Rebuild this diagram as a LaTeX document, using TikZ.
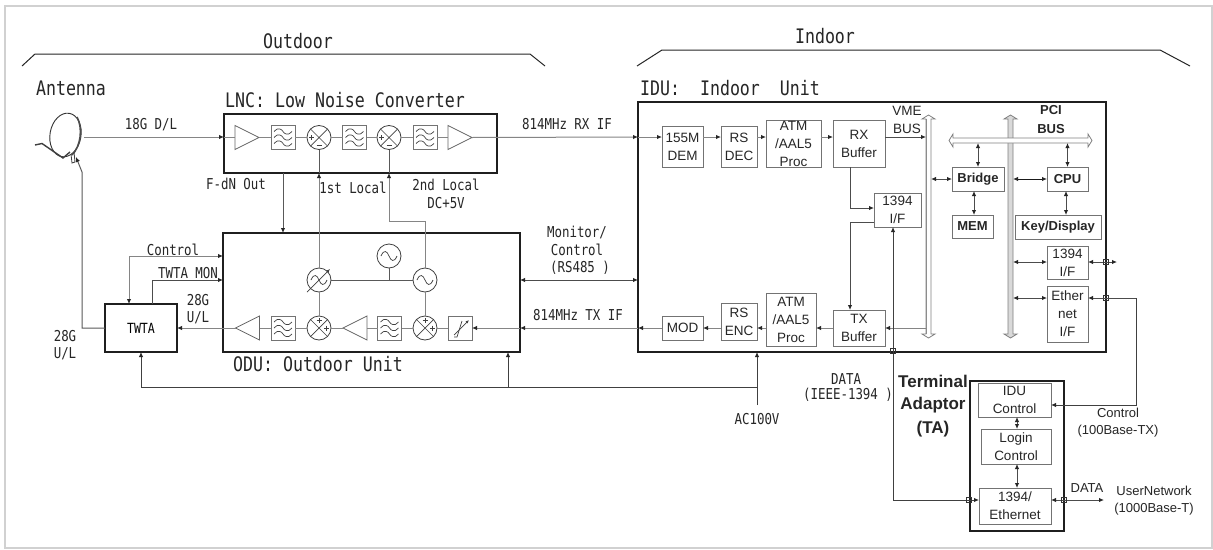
\documentclass[tikz,border=0pt]{standalone}
\usepackage{fontspec}
\setmainfont{Liberation Sans}
\newfontfamily\gth[FakeStretch=0.83]{DejaVu Sans Mono}
\usetikzlibrary{arrows.meta,shapes.geometric,calc}
\newcommand{\gs}[1]{\fontsize{#1}{#1}\selectfont\gth}
\newcommand{\ar}[2]{\fontsize{#1}{#2}\selectfont}
\colorlet{lg}{black!48}
\colorlet{bg}{black!55}
\tikzset{
 sig/.style={draw=lg,line width=1pt},
 dk/.style={draw=black!80,line width=1pt},
 tip/.style={-{Latex[length=5pt,width=4.5pt,black!85]}},
 rtip/.style={{Latex[length=5pt,width=4.5pt,black!85]}-},
 btip/.style={{Latex[length=5pt,width=4.5pt,black!85]}-{Latex[length=5pt,width=4.5pt,black!85]}},
 heavy/.style={draw=black!88,line width=1.8pt,inner sep=0pt,outer sep=0pt},
 thin box/.style={draw=bg,line width=1pt,inner sep=0pt,outer sep=0pt,align=center,font=\fontsize{13.5}{18}\selectfont,text=black!85},
 ghost/.style={inner sep=0pt,outer sep=0pt},
 lab/.style={inner sep=0pt,outer sep=0pt,align=center,text=black!85},
 comp/.style={draw=black!75,line width=.7pt},
 xing/.style={draw=black!80,line width=.7pt,minimum size=5pt,inner sep=0pt,outer sep=0pt},
 busshape/.style={draw=black!50,fill=black!15,line width=.8pt},
 bracket/.style={draw=black!85,line width=1pt}
}
% \bx{style}{name}{x1}{y1}{x2}{y2}{text}
\newcommand{\bx}[7]{%
 \pgfmathsetmacro{\cxx}{(#3+#5)/2}\pgfmathsetmacro{\cyy}{(#4+#6)/2}%
 \pgfmathsetmacro{\www}{#5-#3}\pgfmathsetmacro{\hhh}{#6-#4}%
 \node[#1,minimum width=\www pt,minimum height=\hhh pt] (#2) at (\cxx,\cyy) {#7};}
\newcommand{\filt}[3]{%
 \node[thin box,minimum width=24pt,minimum height=24pt] (#1) at (#2,#3) {};
 \begin{scope}[shift={(#1.center)}]
 \foreach \d in {-6,0,6}{\draw[comp] (-9,\d) .. controls (-5,\d-5) and (-1,\d-2) .. (0,\d) .. controls (1,\d+2) and (5,\d+5) .. (9,\d);}
 \end{scope}}
% \mixer{name}{x}{y}{type}
\newcommand{\mixer}[4]{%
 \node[draw=black!75,line width=.8pt,circle,minimum size=24pt,inner sep=0pt,outer sep=0pt] (#1) at (#2,#3) {};
 \draw[comp] (#1.45)--(#1.225) (#1.135)--(#1.315);
 \begin{scope}[shift={(#1.center)}]
 \if#4u
  \draw[comp,line width=.6pt] (-10,0)--(-5,0) (-7.5,-2.5)--(-7.5,2.5) (-2.5,8)--(2.5,8);
 \else
  \draw[comp,line width=.6pt] (-2.5,-7.5)--(2.5,-7.5) (0,-10)--(0,-5) (5,0)--(10,0) (7.5,-2.5)--(7.5,2.5);
 \fi
 \end{scope}}
\newcommand{\osc}[3]{%
 \node[draw=black!75,line width=.8pt,circle,minimum size=24pt,inner sep=0pt,outer sep=0pt] (#1) at (#2,#3) {};
 \begin{scope}[shift={(#1.center)}]
 \draw[comp] (-8,0) .. controls (-5,-7) and (-2,-5) .. (0,0) .. controls (2,5) and (5,7) .. (8,0);
 \end{scope}}
\newcommand{\ampR}[3]{%
 \node[ghost,minimum width=24pt,minimum height=24pt] (#1) at (#2,#3) {};
 \draw[comp,draw=black!60,line width=.8pt] (#1.south west)--(#1.north west)--(#1.east)--cycle;}
\newcommand{\ampL}[3]{%
 \node[ghost,minimum width=24pt,minimum height=24pt] (#1) at (#2,#3) {};
 \draw[comp,draw=black!60,line width=.8pt] (#1.south east)--(#1.north east)--(#1.west)--cycle;}
\begin{document}
\begin{tikzpicture}[x=1pt,y=-1pt]
\useasboundingbox (0,0) rectangle (1213,549);
\fill[white] (0,0) rectangle (1213,549);
\draw[black!18,line width=1.6pt] (5,6) rectangle (1212,548);
% brackets
\coordinate (oa) at (22,66); \coordinate (ob) at (35,54); \coordinate (oc) at (530,54); \coordinate (od) at (545,66);
\draw[bracket] (oa)--(ob)--(oc)--(od);
\coordinate (ia) at (637,66); \coordinate (ib) at (662,50); \coordinate (ic) at (1160,50); \coordinate (id) at (1190,66);
\draw[bracket] (ia)--(ib)--(ic)--(id);
% rows
\coordinate (rx) at (0,137); \coordinate (mon) at (0,280); \coordinate (tx) at (0,328);
\coordinate (acrow) at (0,387);
% main boxes
\bx{heavy}{lnc}{224}{114}{497}{173}{}
\bx{heavy}{odu}{223}{233}{520}{352}{}
\bx{heavy}{twta}{105}{304}{177}{352}{\gs{14}TWTA}
\bx{heavy}{idu}{638}{102}{1106}{352}{}
\bx{heavy}{ta}{970}{381}{1064}{531}{}
% antenna
\node[ghost,draw=black!80,line width=.9pt,ellipse,minimum width=31pt,minimum height=44pt,rotate=-10] (ant) at (65.5,135) {};
\draw[black!70,line width=1.6pt] (77,117) .. controls (83,128) and (81,146) .. (72,155);
\draw[black!75,line width=1.4pt] (35,145)--(42,143.5)--(63,158)--(70,152);
\draw[black!75,line width=.8pt] (71,154)--(72,163)--(75,162)--(74,152);
\coordinate (antout) at (84,137);
\coordinate (antin) at (76,157);
% LNC chain
\ampR{a1}{247}{137.5}
\filt{f1}{283}{137.5}
\mixer{m1}{319}{137.5}{u}
\filt{f2}{354.5}{137.5}
\mixer{m2}{389}{137.5}{u}
\filt{f3}{425}{137.5}
\ampR{a2}{460}{137.5}
\draw[sig,tip] (antout)--(lnc.west |- rx);
\draw[sig] (lnc.west |- rx)--(a1.west |- rx);
\draw[sig] (a1.east)--(f1.west); \draw[sig] (f1.east)--(m1.west); \draw[sig] (m1.east)--(f2.west);
\draw[sig] (f2.east)--(m2.west); \draw[sig] (m2.east)--(f3.west); \draw[sig] (f3.east)--(a2.west);
% ODU chain
\ampL{a3}{247.5}{328}
\filt{f4}{283}{328}
\mixer{m3}{319}{328}{d}
\ampL{a4}{355}{328}
\filt{f5}{389.5}{328}
\mixer{m4}{425}{328}{d}
\node[thin box,minimum width=24pt,minimum height=24pt] (att) at (460,328) {};
\draw[comp] (454,337)--(457,337)--(462,321);
\draw[comp,-{Latex[length=3.5pt,width=3pt]}] (454,335)--(469,320);
\node[draw=black!75,line width=.8pt,circle,minimum size=24pt,inner sep=0pt,outer sep=0pt] (ps) at (319,280) {};
\begin{scope}[shift={(ps.center)}]
\draw[comp] (-8,0) .. controls (-5,-7) and (-2,-5) .. (0,0) .. controls (2,5) and (5,7) .. (8,0);
\end{scope}
\coordinate (psa) at (307,292); \coordinate (psb) at (330,269);
\draw[comp,-{Latex[length=4pt,width=3.5pt]}] (psa)--(psb);
\osc{o1}{389}{256}
\osc{o2}{425}{280}
\coordinate (bend) at (425,221);
\draw[sig] (a3.east)--(f4.west); \draw[sig] (f4.east)--(m3.west); \draw[sig] (m3.east)--(a4.west);
\draw[sig] (a4.east)--(f5.west); \draw[sig] (f5.east)--(m4.west); \draw[sig] (m4.east)--(att.west);
\draw[dk,draw=black!65] (ps.east)--(o2.west);
\draw[dk,draw=black!65] (o1.south)--(o1.south |- o2.west);
\draw[sig] (ps.south)--(m3.north);
\draw[sig] (o2.south)--(m4.north);
\draw[sig,tip] (m1.south |- ps.north)--(m1.south |- lnc.south);
\draw[dk,draw=black!65] (m1.south)--(m1.south |- lnc.south);
\draw[sig,tip] (o2.north)--(bend)--(m2.south |- bend)--(m2.south |- lnc.south);
\draw[dk,draw=black!65] (m2.south)--(m2.south |- lnc.south);
\coordinate (fdn) at (283,173);
\draw[dk,draw=black!65,tip] (fdn)--(fdn |- odu.north);
% TWTA
\draw[sig,tip] (a3.west)--(twta.east |- tx);
\coordinate (tc) at (129,304); \coordinate (tm) at (152,304); \coordinate (tcr) at (223,256);
\draw[sig,btip] (tc)--(tc |- tcr)--(tcr);
\draw[dk,draw=black!70,tip] (tm)--(tm |- mon)--(odu.west |- mon);
\coordinate (upx) at (82,172);
\draw[dk,draw=black!65,tip] (twta.west |- tx)--(upx |- tx)--(upx)--(antin);
% power
\coordinate (pw) at (141,352); \coordinate (po) at (508,352); \coordinate (pi) at (757,352); \coordinate (pe) at (757,405);
\draw[dk,draw=black!75,tip] (pi |- acrow)--(pw |- acrow)--(pw);
\draw[dk,draw=black!75,tip] (po |- acrow)--(po);
\draw[dk,draw=black!75,tip] (pe)--(pi);
% between units
\draw[sig,tip] (a2.east)--(idu.west |- rx);
\draw[dk,draw=black!70,btip] (odu.east |- mon)--(idu.west |- mon);
\draw[sig,tip] (idu.west |- tx)--(odu.east |- tx);
\draw[sig,tip] (odu.east |- tx)--(att.east);
% IDU blocks
\bx{thin box}{dem}{662}{126}{703}{167}{155M\\DEM}
\bx{thin box}{rsd}{721}{126}{757}{167}{RS\\DEC}
\bx{thin box}{atmr}{766}{120}{821}{167}{ATM\\/AAL5\\Proc}
\bx{thin box}{rxb}{833}{120}{885}{167}{RX\\Buffer}
\bx{thin box}{ifa}{874}{193}{921}{227}{1394\\I/F}
\bx{thin box}{txb}{833}{310}{885}{346}{TX\\Buffer}
\bx{thin box}{atmt}{766}{293}{816}{346}{ATM\\/AAL5\\Proc}
\bx{thin box}{rse}{721}{303}{757}{340}{RS\\ENC}
\bx{thin box}{mod}{662}{316}{703}{340}{MOD}
\bx{thin box}{bri}{952}{167}{1004}{191}{\ar{13}{18}\bfseries Bridge}
\bx{thin box}{cpu}{1047}{167}{1088}{191}{\ar{13}{18}\bfseries CPU}
\bx{thin box}{mem}{952}{215}{993}{238}{\ar{13}{18}\bfseries MEM}
\bx{thin box}{key}{1015}{215}{1101}{239}{\ar{13}{18}\bfseries Key/Display}
\bx{thin box}{ifb}{1047}{246}{1088}{279}{1394\\I/F}
\bx{thin box}{eth}{1047}{286}{1088}{342}{Ether\\net\\I/F}
% buses
\bx{ghost}{vme}{926}{115}{931}{338}{}
\bx{ghost}{pciv}{1008}{115}{1013}{338}{}
\bx{ghost}{pcih}{949}{138}{1092}{143}{}
\draw[busshape,fill=white] (926,119)--(922,119)--(928.5,115)--(935,119)--(931,119)--(931,334)--(935,334)--(928.5,338)--(922,334)--(926,334)--cycle;
\draw[black!45,line width=1.6pt] (926.5,119)--(926.5,334);
\draw[busshape] (1008,119)--(1004,119)--(1010.5,115)--(1017,119)--(1013,119)--(1013,334)--(1017,334)--(1010.5,338)--(1004,334)--(1008,334)--cycle;
\draw[busshape,fill=white] (953,138)--(953,134)--(949,140.5)--(953,147)--(953,143)--(1088,143)--(1088,147)--(1092,140.5)--(1088,134)--(1088,138)--cycle;
% IDU connectors
\draw[sig,tip] (idu.west |- rx)--(dem.west |- rx);
\draw[sig,tip] (dem.east |- rx)--(rsd.west |- rx);
\draw[sig,tip] (rsd.east |- rx)--(atmr.west |- rx);
\draw[sig,tip] (atmr.east |- rx)--(rxb.west |- rx);
\draw[dk,draw=black!70,tip] (rxb.east |- rx)--(vme.west |- rx);
\coordinate (c850) at (850,0); \coordinate (r208) at (0,208); \coordinate (r222) at (0,222);
\draw[dk,draw=black!70,tip] (c850 |- rxb.south)--(c850 |- r208)--(ifa.west |- r208);
\draw[dk,draw=black!70,tip] (ifa.west |- r222)--(c850 |- r222)--(c850 |- txb.north);
\draw[sig,tip] (vme.west |- tx)--(txb.east |- tx);
\draw[sig,tip] (txb.west |- tx)--(atmt.east |- tx);
\draw[sig,tip] (atmt.west |- tx)--(rse.east |- tx);
\draw[sig,tip] (rse.west |- tx)--(mod.east |- tx);
\draw[sig,tip] (mod.west |- tx)--(idu.west |- tx);
\draw[dk,draw=black!70,btip] (bri.north |- pcih.south)--(bri.north);
\draw[dk,draw=black!70,btip] (cpu.north |- pcih.south)--(cpu.north);
\draw[dk,draw=black!70,btip] (vme.east |- bri.west)--(bri.west);
\draw[dk,draw=black!90,btip] (pciv.east |- cpu.west)--(cpu.west);
\coordinate (c974) at (974,0); \coordinate (c1066) at (1066,0);
\draw[dk,draw=black!70,btip] (c974 |- bri.south)--(c974 |- mem.north);
\draw[dk,draw=black!70,btip] (c1066 |- cpu.south)--(c1066 |- key.north);
\coordinate (r262) at (0,262); \coordinate (r298) at (0,298);
\draw[dk,draw=black!70,btip] (pciv.east |- r262)--(ifb.west |- r262);
\draw[dk,draw=black!70,btip] (pciv.east |- r298)--(eth.west |- r298);
\coordinate (ifbout) at (1117,262);
\draw[dk,draw=black!70,btip] (ifb.east |- r262)--(ifbout);
\node[xing] (x3) at (1106,262) {};
\node[xing] (x4) at (1106,298) {};
% TA blocks
\bx{thin box}{ctl}{978}{383}{1051}{417}{IDU\\Control}
\bx{thin box}{log}{981}{429}{1051}{464}{Login\\Control}
\bx{thin box}{eth2}{979}{488}{1051}{524}{1394/\\Ethernet}
\coordinate (c1017) at (1017,0); \coordinate (c893) at (893,0); \coordinate (c1136) at (1136,0);
\coordinate (r500) at (0,500); \coordinate (r405) at (0,405);
\draw[dk,draw=black!70,btip] (c1017 |- ctl.south)--(c1017 |- log.north);
\draw[dk,draw=black!70,btip] (c1017 |- log.south)--(c1017 |- eth2.north);
\draw[dk,draw=black!75,btip] (c893 |- ifa.south)--(c893 |- r500)--(eth2.west |- r500);
\draw[dk,draw=black!75,tip] (c1136 |- r298)--(c1136 |- r405)--(ctl.east |- r405);
\draw[dk,draw=black!70,tip] (c1136 |- r298)--(eth.east |- r298);
\coordinate (usr) at (1104,500);
\draw[dk,draw=black!70,btip] (eth2.east |- r500)--(usr);
\node[xing] (x1) at (893,351) {};
\node[xing] (x2) at (969,500) {};
\node[xing] (x5) at (1064,500) {};
% labels
\node[lab] (l1) at (298,41) {\gs{20}Outdoor};
\node[lab] (l2) at (825,36) {\gs{20}Indoor};
\node[lab] (l3) at (71,88) {\gs{20}Antenna};
\node[lab] (l4) at (151,125) {\gs{15}18G D/L};
\node[lab] (l5) at (345,100) {\gs{20}LNC: Low Noise Converter};
\node[lab] (l6) at (567,124) {\gs{15}814MHz RX IF};
\node[lab] (l7) at (236,184) {\gs{15}F-dN Out};
\node[lab] (l8) at (353,188) {\gs{15}1st Local};
\node[lab] (l9) at (446,185) {\gs{15}2nd Local};
\node[lab] (l10) at (446,203) {\gs{15}DC+5V};
\node[lab] (l11) at (173,250) {\gs{15}Control};
\node[lab] (l12) at (188,273) {\gs{15}TWTA MON};
\node[lab] (l13) at (198,300) {\gs{15}28G};
\node[lab] (l14) at (198,318) {\gs{15}U/L};
\node[lab] (l15) at (65,336) {\gs{15}28G};
\node[lab] (l16) at (65,354) {\gs{15}U/L};
\node[lab] (l17) at (577,232) {\gs{15}Monitor/};
\node[lab] (l18) at (577,250) {\gs{15}Control};
\node[lab] (l19) at (580,268) {\gs{15}(RS485 )};
\node[lab] (l20) at (578,315) {\gs{15}814MHz TX IF};
\node[lab] (l21) at (318,364) {\gs{20}ODU: Outdoor Unit};
\node[lab] (l22) at (730,88) {\gs{20}IDU:\ \ Indoor\ \ Unit};
\node[lab] (l23) at (907,111) {\ar{13.5}{18}VME};
\node[lab] (l24) at (907,129) {\ar{13.5}{18}BUS};
\node[lab] (l25) at (1051,110) {\ar{13}{18}\bfseries PCI};
\node[lab] (l26) at (1051,129) {\ar{13}{18}\bfseries BUS};
\node[lab] (l27) at (846,379) {\gs{15}DATA};
\node[lab] (l28) at (848,395) {\gs{15}(IEEE-1394 )};
\node[lab] (l29) at (757,419) {\gs{15}AC100V};
\node[lab] (l30) at (933,381) {\ar{17}{20}\bfseries Terminal};
\node[lab] (l31) at (933,405) {\ar{17}{20}\bfseries Adaptor};
\node[lab] (l32) at (933,429) {\ar{17}{20}\bfseries (TA)};
\node[lab] (l33) at (1118,413) {\ar{13}{18}Control};
\node[lab] (l34) at (1118,431) {\ar{13}{18}(100Base-TX)};
\node[lab] (l35) at (1087,488) {\ar{13}{18}DATA};
\node[lab] (l36) at (1154,491) {\ar{13}{18}UserNetwork};
\node[lab] (l37) at (1154,509) {\ar{13}{18}(1000Base-T)};
\end{tikzpicture}
\end{document}
